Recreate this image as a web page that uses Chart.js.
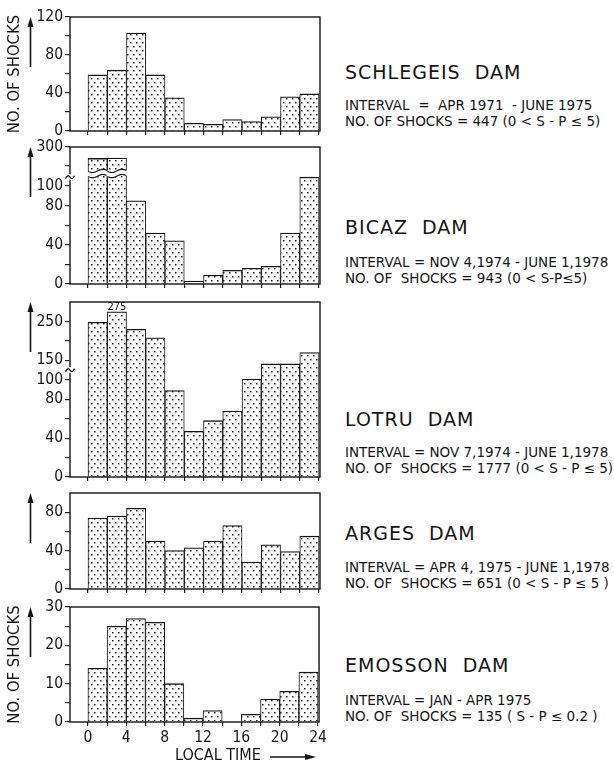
<!DOCTYPE html>
<html>
<head>
<meta charset="utf-8">
<title>Shocks by local time at five dams</title>
<script src="https://cdn.jsdelivr.net/npm/chart.js@4.4.1/dist/chart.umd.min.js"></script>
<style>
  html, body { margin: 0; padding: 0; background: #fff; }
  #fig { position: relative; width: 614px; height: 764px; overflow: hidden; }
  #fig canvas { position: absolute; left: 0; }
  .dam { position: absolute; left: 345px; font-family: "DejaVu Sans", sans-serif; color: #151515; white-space: pre; }
  .name { font-size: 19px; line-height: 22px; letter-spacing: 1px; }
  .info { font-size: 13.5px; line-height: 16px; }
</style>
</head>
<body>
<div id="fig"></div>
<script>
// two-hour bins of local time (bin start, hours)
const binStart = [0, 2, 4, 6, 8, 10, 12, 14, 16, 18, 20, 22];

// number of shocks per bin
const schlegeis = [59, 64, 103, 59, 35, 8, 7, 12, 10, 15, 36, 39];
const bicaz     = [270, 271, 85, 52, 44, 3, 9, 14, 16, 18, 52, 109];
const lotru     = [248, 275, 230, 208, 89, 47, 58, 68, 102, 141, 141, 170];
const arges     = [74, 76, 84, 50, 40, 43, 50, 66, 28, 46, 39, 55];
const emosson   = [14, 25, 27, 26, 10, 1, 3, 0, 2, 6, 8, 13];

// axis ticks and which of them carry a label
const timeTicks  = [0, 2, 4, 6, 8, 10, 12, 14, 16, 18, 20, 22, 24];
const timeLabels = [0, 4, 8, 12, 16, 20, 24];
const schlegeisTicks = [0, 20, 40, 60, 80, 100, 120];
const schlegeisLabels = [0, 40, 80, 120];
const bicazTicks = [0, 20, 40, 60, 80, 100, 250, 300];
const bicazLabels = [0, 40, 80, 100, 300];
const lotruTicks = [0, 20, 40, 60, 80, 100, 150, 200, 250];
const lotruLabels = [0, 40, 80, 100, 150, 250];
const argesTicks = [0, 20, 40, 60, 80];
const argesLabels = [0, 40, 80];
const emossonTicks = [0, 5, 10, 15, 20, 25, 30];
const emossonLabels = [0, 10, 20, 30];

// captions
const damNames = ['SCHLEGEIS  DAM', 'BICAZ  DAM', 'LOTRU  DAM', 'ARGES  DAM', 'EMOSSON  DAM'];
const intervals = [
  'INTERVAL  =  APR 1971  - JUNE 1975',
  'INTERVAL = NOV 4,1974 - JUNE 1,1978',
  'INTERVAL = NOV 7,1974 - JUNE 1,1978',
  'INTERVAL = APR 4, 1975 - JUNE 1,1978',
  'INTERVAL = JAN - APR 1975'
];
const shockTotals = [
  'NO. OF SHOCKS = 447 (0 < S - P \u2264 5)',
  'NO. OF  SHOCKS = 943 (0 < S-P\u22645)',
  'NO. OF  SHOCKS = 1777 (0 < S - P \u2264 5)',
  'NO. OF  SHOCKS = 651 (0 < S - P \u2264 5 )',
  'NO. OF  SHOCKS = 135 ( S - P \u2264 0.2 )'
];

// piecewise axis for the broken panels: [value, fraction of axis height]
const axisStops = {
  bicaz: [[0, 0], [112, 0.801], [250, 0.861], [300, 1]],
  lotru: [[0, 0], [100, 0.555], [300, 1]]
};

const ink = '#141414';
const condensed = '"DejaVu Sans Condensed", "DejaVu Sans", sans-serif';

class BrokenLinearScale extends Chart.LinearScale {
  stops() { return axisStops[this.chart.canvas.dataset.dam]; }
  getPixelForValue(value) {
    const s = this.stops();
    let i = 1;
    while (i < s.length - 1 && value > s[i][0]) i++;
    const [v0, f0] = s[i - 1], [v1, f1] = s[i];
    return this.getPixelForDecimal(f0 + (value - v0) * (f1 - f0) / (v1 - v0));
  }
  getValueForPixel(pixel) {
    const s = this.stops(), f = this.getDecimalForPixel(pixel);
    let i = 1;
    while (i < s.length - 1 && f > s[i][1]) i++;
    const [v0, f0] = s[i - 1], [v1, f1] = s[i];
    return v0 + (f - f0) * (v1 - v0) / (f1 - f0);
  }
}
BrokenLinearScale.id = 'brokenLinear';
BrokenLinearScale.defaults = Chart.LinearScale.defaults;
Chart.register(BrokenLinearScale);

function dotPattern() {
  const c = document.createElement('canvas');
  c.width = 6; c.height = 8;
  const g = c.getContext('2d');
  g.fillStyle = '#fff';
  g.fillRect(0, 0, 6, 8);
  g.fillStyle = '#1c1c1c';
  g.fillRect(1, 1, 1.5, 1.5);
  g.fillRect(4, 5, 1.5, 1.5);
  return g.createPattern(c, 'repeat');
}
const dots = dotPattern();

const panels = [
  { dam: 'schlegeis', values: schlegeis, top: 17, bottom: 131, max: 120, ticks: schlegeisTicks, labels: schlegeisLabels, yTitle: true },
  { dam: 'bicaz', values: bicaz, top: 147, bottom: 284, max: 300, ticks: bicazTicks, labels: bicazLabels, broken: true, tilde: 109, cut: 125 },
  { dam: 'lotru', values: lotru, top: 302, bottom: 477, max: 300, ticks: lotruTicks, labels: lotruLabels, broken: true, tilde: 125, valueLabels: [1] },
  { dam: 'arges', values: arges, top: 493, bottom: 589, max: 100, ticks: argesTicks, labels: argesLabels },
  { dam: 'emosson', values: emosson, top: 607, bottom: 722, max: 30, ticks: emossonTicks, labels: emossonLabels, yTitle: true, xTitle: true }
];

function upArrow(ctx, x, tip, len) {
  ctx.lineWidth = 1.6;
  ctx.beginPath(); ctx.moveTo(x, tip + 6); ctx.lineTo(x, tip + len); ctx.stroke();
  ctx.beginPath(); ctx.moveTo(x, tip); ctx.lineTo(x - 3, tip + 10); ctx.lineTo(x + 3, tip + 10); ctx.closePath(); ctx.fill();
}

function makeDecor(p) {
  return {
    id: 'decor',
    afterDatasetsDraw(chart) {
      const ctx = chart.ctx, a = chart.chartArea, y = chart.scales.y;
      const meta = chart.getDatasetMeta(0);
      ctx.save();
      ctx.strokeStyle = ink;
      ctx.fillStyle = ink;

      // gap through the bars that run past the axis break
      if (p.cut != null) {
        const cy = y.getPixelForValue(p.cut);
        meta.data.forEach((bar, i) => {
          if (p.values[i] <= p.cut) return;
          const x0 = bar.x - bar.width / 2 - 0.7, x1 = bar.x + bar.width / 2 + 0.7;
          const wave = (x, off) => cy + off + 1.6 * Math.sin((x - x0) / (x1 - x0) * 2 * Math.PI);
          const xs = [];
          for (let x = x0; x < x1; x += 0.5) xs.push(x);
          xs.push(x1);
          ctx.beginPath();
          xs.forEach(x => ctx.lineTo(x, wave(x, -2.6)));
          xs.slice().reverse().forEach(x => ctx.lineTo(x, wave(x, 2.6)));
          ctx.closePath();
          ctx.fillStyle = '#fff';
          ctx.fill();
          ctx.lineWidth = 1.2;
          [-2.6, 2.6].forEach(off => {
            ctx.beginPath();
            xs.filter(x => x >= x0 + 0.7 && x <= x1 - 0.7).forEach(x => ctx.lineTo(x, wave(x, off)));
            ctx.stroke();
          });
        });
        ctx.fillStyle = ink;
      }

      // frame
      ctx.lineWidth = 1.4;
      ctx.strokeRect(a.left, a.top, a.right - a.left, a.bottom - a.top);

      // break mark on the count axis
      if (p.tilde != null) {
        const ty = y.getPixelForValue(p.tilde), tx = a.left;
        ctx.fillStyle = '#fff';
        ctx.fillRect(tx - 1.5, ty - 3, 3, 6);
        ctx.fillStyle = ink;
        ctx.lineWidth = 1.3;
        ctx.beginPath();
        ctx.moveTo(tx - 4.5, ty + 1.5);
        ctx.quadraticCurveTo(tx - 2.2, ty - 3.5, tx, ty);
        ctx.quadraticCurveTo(tx + 2.2, ty + 3.5, tx + 4.5, ty - 1.5);
        ctx.stroke();
      }

      // value printed above a bar
      (p.valueLabels || []).forEach(i => {
        const bar = meta.data[i];
        ctx.font = '11px ' + condensed;
        ctx.textAlign = 'center';
        ctx.textBaseline = 'alphabetic';
        ctx.fillText(String(p.values[i]), bar.x, bar.y - 1.5);
      });

      upArrow(ctx, 30.5, a.top, 50);

      // time axis caption with its arrow
      if (p.xTitle) {
        const ty = a.bottom + 34;
        ctx.font = '16px ' + condensed;
        ctx.textAlign = 'left';
        ctx.textBaseline = 'middle';
        ctx.fillText('LOCAL TIME', 175, ty);
        const ay = ty + 1, ax = a.right - 3;
        ctx.lineWidth = 1.4;
        ctx.beginPath(); ctx.moveTo(270, ay); ctx.lineTo(ax - 6, ay); ctx.stroke();
        ctx.beginPath(); ctx.moveTo(ax, ay); ctx.lineTo(ax - 11, ay - 3); ctx.lineTo(ax - 11, ay + 3); ctx.closePath(); ctx.fill();
      }
      ctx.restore();
    }
  };
}

const fig = document.getElementById('fig');
const tickFont = { family: condensed, size: 15.5 };

panels.forEach(p => {
  const padTop = 20;
  const xh = p.xTitle ? 30 : 8;
  const padBottom = p.xTitle ? 12 : 6;
  const canvasTop = p.top - padTop;
  const canvas = document.createElement('canvas');
  canvas.width = 330;
  canvas.height = p.bottom - canvasTop + xh + padBottom;
  canvas.style.top = canvasTop + 'px';
  canvas.dataset.dam = p.dam;
  fig.appendChild(canvas);

  new Chart(canvas, {
    type: 'bar',
    data: {
      datasets: [{
        data: binStart.map((h, i) => ({ x: h + 1, y: p.values[i] })),
        backgroundColor: dots,
        borderColor: ink,
        borderWidth: { top: 1.3, left: 1, right: 1, bottom: 0 },
        borderSkipped: 'start',
        categoryPercentage: 1,
        barPercentage: 1
      }]
    },
    options: {
      responsive: false,
      animation: false,
      devicePixelRatio: 1,
      layout: { padding: { top: padTop, right: 10, left: 0, bottom: padBottom } },
      plugins: { legend: { display: false }, tooltip: { enabled: false } },
      scales: {
        x: {
          type: 'linear',
          min: -1.87,
          max: 24.1,
          offset: false,
          afterFit: s => { s.height = xh; },
          afterBuildTicks: s => { s.ticks = timeTicks.map(v => ({ value: v })); },
          ticks: {
            display: !!p.xTitle,
            autoSkip: false,
            maxRotation: 0,
            padding: 3,
            font: tickFont,
            color: ink,
            callback: v => timeLabels.includes(v) ? String(v) : ''
          },
          grid: { offset: false, drawOnChartArea: false, tickLength: 4, color: ink, lineWidth: 1.2 },
          border: { display: false }
        },
        y: {
          type: p.broken ? 'brokenLinear' : 'linear',
          min: 0,
          max: p.max,
          afterFit: s => { s.width = 70; },
          afterBuildTicks: s => { s.ticks = p.ticks.map(v => ({ value: v })); },
          ticks: {
            autoSkip: false,
            padding: 2,
            font: tickFont,
            color: ink,
            callback: v => p.labels.includes(v) ? String(v) : ''
          },
          grid: { drawOnChartArea: false, tickLength: 5, color: ink, lineWidth: 1.2 },
          border: { display: false },
          title: {
            display: !!p.yTitle,
            text: 'NO. OF SHOCKS',
            color: ink,
            font: { family: condensed, size: 16.5 },
            padding: { top: 5, bottom: 0 }
          }
        }
      }
    },
    plugins: [makeDecor(p)]
  });
});

// captions to the right of each panel
const captionY = [
  { name: 72, info: 105 },
  { name: 227, info: 262 },
  { name: 419, info: 452 },
  { name: 533, info: 567 },
  { name: 665, info: 700 }
];
captionY.forEach((c, k) => {
  const name = document.createElement('div');
  name.className = 'dam name';
  name.style.top = (c.name - 11) + 'px';
  name.textContent = damNames[k];
  fig.appendChild(name);
  const info = document.createElement('div');
  info.className = 'dam info';
  info.style.top = (c.info - 8) + 'px';
  info.textContent = intervals[k] + '\n' + shockTotals[k];
  fig.appendChild(info);
});
</script>
</body>
</html>
